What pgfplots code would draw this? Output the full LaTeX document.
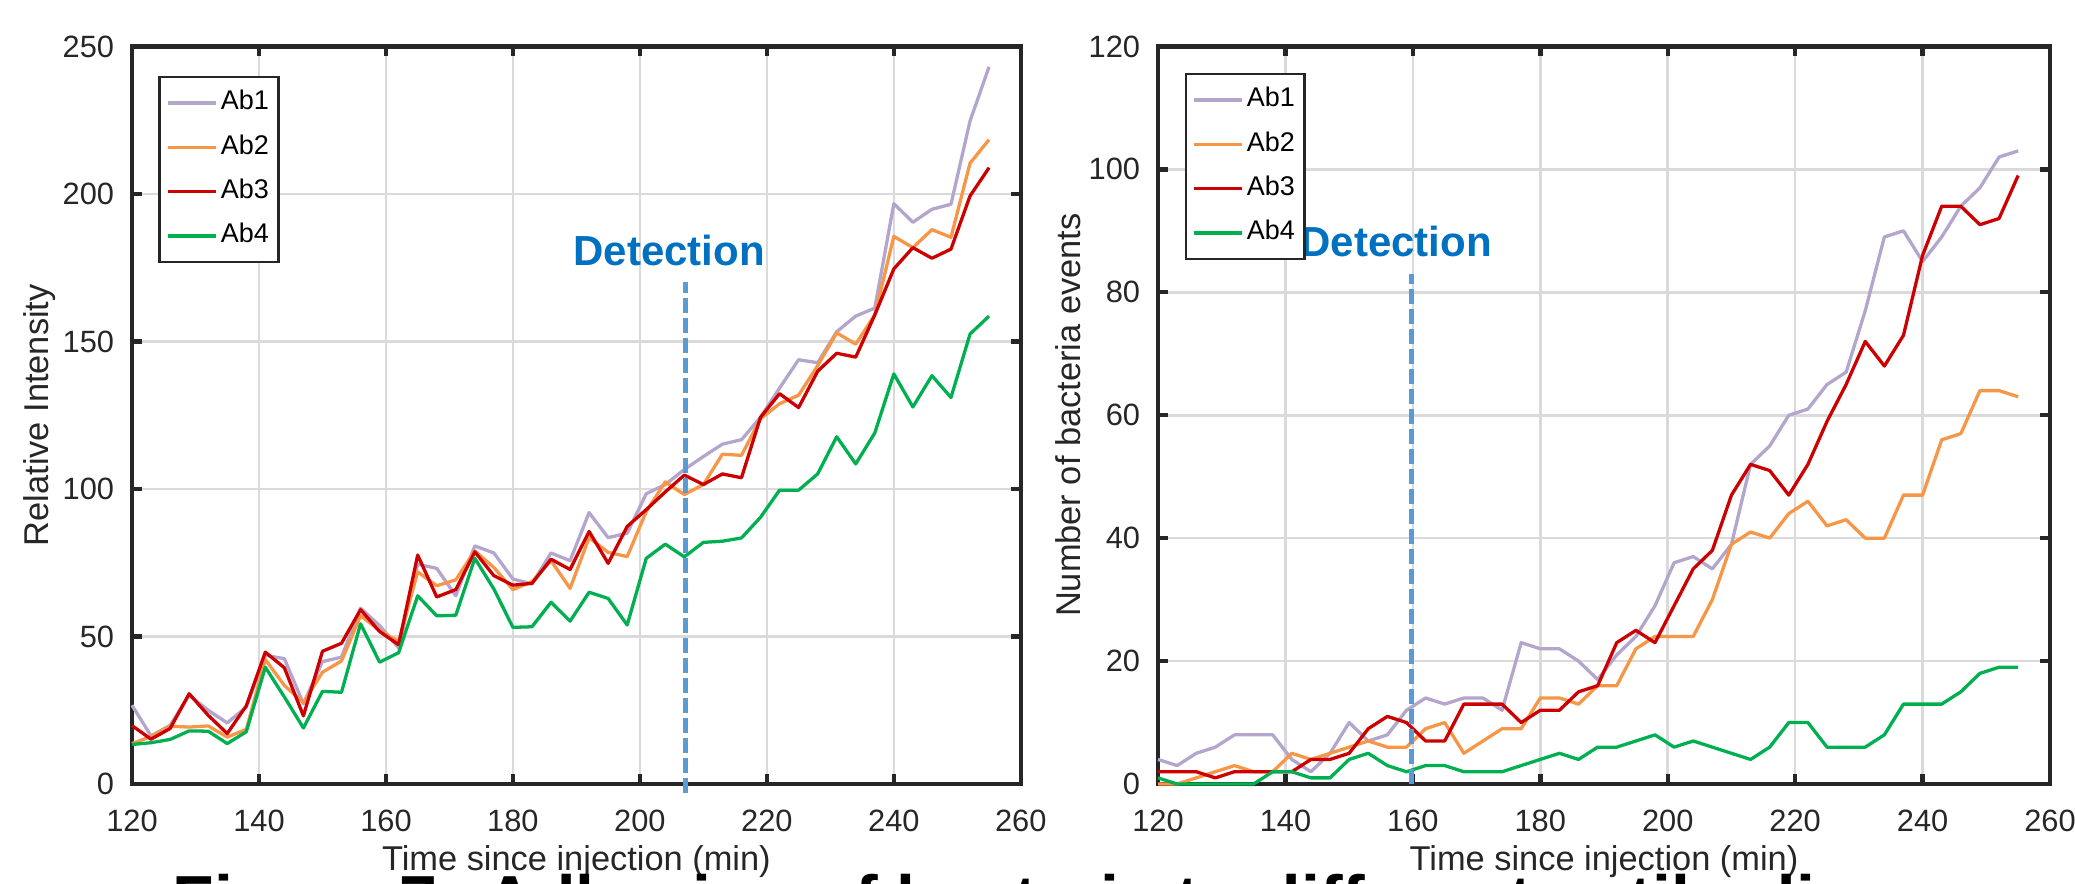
\documentclass[border=0pt]{standalone}
\usepackage{fontspec}
\setmainfont{Liberation Sans}
\usepackage{pgfplots}
\usepackage{pgfplotstable}
\pgfplotsset{compat=1.18}

\definecolor{abone}{RGB}{180,165,205}
\definecolor{abtwo}{RGB}{247,150,70}
\definecolor{abthree}{RGB}{204,0,0}
\definecolor{abfour}{RGB}{0,176,80}
\definecolor{detline}{RGB}{91,155,213}
\definecolor{dettext}{RGB}{0,112,192}
\definecolor{axgray}{RGB}{38,38,38}
\definecolor{gridgray}{RGB}{218,218,218}

% relative intensity, one row every 3 min
\pgfplotstableread{
t a1 a2 a3 a4
120 26.7 13.7 19.8 13.4
123 16.3 16.1 15.2 14.0
126 19.9 19.6 18.8 15.1
129 30.1 19.3 30.6 18.0
132 25.0 19.7 23.3 17.9
135 20.7 15.9 17.1 13.7
138 26.1 18.5 26.5 17.7
141 43.6 42.2 44.7 39.6
144 42.5 33.4 39.4 29.5
147 27.2 27.6 23.1 19.0
150 41.5 37.9 45.0 31.4
153 43.0 41.7 47.7 31.1
156 59.6 57.1 59.1 54.3
159 53.7 52.0 51.7 41.3
162 46.1 48.3 47.2 44.5
165 74.5 71.9 77.6 63.8
168 73.1 67.2 63.4 57.0
171 63.8 69.2 65.9 57.2
174 80.7 79.0 78.7 76.5
177 78.3 73.4 70.6 66.1
180 69.5 65.9 67.4 53.1
183 67.8 68.6 68.0 53.3
186 78.3 75.7 76.2 61.6
189 75.7 66.3 72.7 55.2
192 92.0 83.5 85.6 65.0
195 83.5 78.5 74.8 62.9
198 85.0 77.1 87.3 53.9
201 98.4 92.3 93.0 76.5
204 101.5 102.4 99.0 81.3
207 106.6 98.1 104.7 77.0
210 111.0 101.5 101.5 81.9
213 115.2 111.8 105.1 82.3
216 116.7 111.4 103.8 83.4
219 124.3 123.8 124.3 90.4
222 134.2 128.9 132.3 99.6
225 143.8 131.8 127.6 99.6
228 142.8 141.8 139.9 105.1
231 153.3 152.9 146.0 117.7
234 158.6 149.1 144.7 108.5
237 161.3 159.0 159.0 119.0
240 196.7 185.6 174.6 139.0
243 190.4 181.8 181.8 127.8
246 194.8 187.9 178.2 138.4
249 196.5 185.3 181.3 131.0
252 224.7 210.4 199.3 152.5
255 243.1 218.4 208.9 158.6
}\intensity

% number of bacteria events
\pgfplotstableread{
t a1 a2 a3 a4
120 4 0 2 1
123 3 0 2 0
126 5 1 2 0
129 6 2 1 0
132 8 3 2 0
135 8 2 2 0
138 8 2 2 2
141 4 5 2 2
144 2 4 4 1
147 5 5 4 1
150 10 6 5 4
153 7 7 9 5
156 8 6 11 3
159 12 6 10 2
162 14 9 7 3
165 13 10 7 3
168 14 5 13 2
171 14 7 13 2
174 12 9 13 2
177 23 9 10 3
180 22 14 12 4
183 22 14 12 5
186 20 13 15 4
189 17 16 16 6
192 21 16 23 6
195 24 22 25 7
198 29 24 23 8
201 36 24 29 6
204 37 24 35 7
207 35 30 38 6
210 39 39 47 5
213 52 41 52 4
216 55 40 51 6
219 60 44 47 10
222 61 46 52 10
225 65 42 59 6
228 67 43 65 6
231 77 40 72 6
234 89 40 68 8
237 90 47 73 13
240 85 47 86 13
243 89 56 94 13
246 94 57 94 15
249 97 64 91 18
252 102 64 92 19
255 103 63 99 19
}\events

\pgfplotsset{
  panel/.style={
    scale only axis, height=184.4pt,
    xmin=120, xmax=260, xtick={120,140,...,260},
    axis line style={axgray, line width=1.15pt},
    tick style={axgray, line width=1.1pt},
    major tick length=2.4pt, tick align=inside,
    xtick pos=both, ytick pos=both,
    grid=major, major grid style={gridgray, line width=0.65pt},
    /pgf/number format/assume math mode=true,
    ticklabel style={font=\fontsize{7.7}{9}\selectfont, text=axgray},
    xticklabel style={yshift=-2.95pt},
    yticklabel style={xshift=-0.95pt},
    label style={font=\fontsize{8.6}{10}\selectfont, text=axgray},
    xlabel={Time since injection (min)},
    xlabel style={at={(axis description cs:0.5,0)}, anchor=north, yshift=-15.25pt, inner sep=0pt},
    ylabel style={anchor=center, inner sep=0pt},
    clip=false,
    legend cell align=left,
    legend image code/.code={\draw[##1] (0pt,0pt) -- (12pt,0pt);},
    legend style={anchor=north west, draw=axgray, line width=0.7pt, fill=white,
      font=\fontsize{6.75}{8}\selectfont, inner xsep=1.5pt, inner ysep=2.4pt,
      row sep=2.9pt, nodes={inner sep=0.9pt}},
  },
  ab/.style={line width=0.82pt, line join=round},
  det/.style={detline, line width=1.3pt, dash pattern=on 3.8pt off 1.2pt, forget plot},
}

\begin{document}
\begin{tikzpicture}
\begin{axis}[panel, width=222.2pt, at={(33pt,24.75pt)}, anchor=south west,
  ymin=0, ymax=250, ytick={0,50,...,250},
  ylabel={Relative Intensity},
  ylabel style={at={(axis description cs:-0.1035,0.5)}},
  legend style={at={(axis description cs:0.0298,0.9604)}}]
\addplot[ab, abone] table[x=t, y=a1] {\intensity};
\addplot[ab, abtwo] table[x=t, y=a2] {\intensity};
\addplot[ab, abthree] table[x=t, y=a3] {\intensity};
\addplot[ab, abfour] table[x=t, y=a4] {\intensity};
\legend{Ab1,Ab2,Ab3,Ab4}
\addplot[det] coordinates {(207.2,-3) (207.2,170)};
\node[font=\bfseries\fontsize{10.5}{12}\selectfont, text=dettext] at (axis cs:204.6,181) {Detection};
\end{axis}

\begin{axis}[panel, width=223pt, at={(289.5pt,24.75pt)}, anchor=south west,
  ymin=0, ymax=120, ytick={0,20,...,120},
  ylabel={Number of bacteria events},
  ylabel style={at={(axis description cs:-0.1009,0.5)}},
  legend style={at={(axis description cs:0.0297,0.9645)}}]
\addplot[ab, abone] table[x=t, y=a1] {\events};
\addplot[ab, abtwo] table[x=t, y=a2] {\events};
\addplot[ab, abthree] table[x=t, y=a3] {\events};
\addplot[ab, abfour] table[x=t, y=a4] {\events};
\legend{Ab1,Ab2,Ab3,Ab4}
\addplot[det] coordinates {(159.8,0) (159.8,83)};
\node[font=\bfseries\fontsize{10.5}{12}\selectfont, text=dettext] at (axis cs:157.4,88.3) {Detection};
\end{axis}

% caption of the page, cut by the lower edge
\node[anchor=base west, inner sep=0pt, font=\bfseries\fontsize{17}{20}\selectfont]
  at (43pt,-10.2pt) {Figure 7: Adhesion of bacteria to different antibodies};

\pgfresetboundingbox
\path[use as bounding box] (0,0) rectangle (518.75pt,220.75pt);
\end{tikzpicture}
\end{document}
